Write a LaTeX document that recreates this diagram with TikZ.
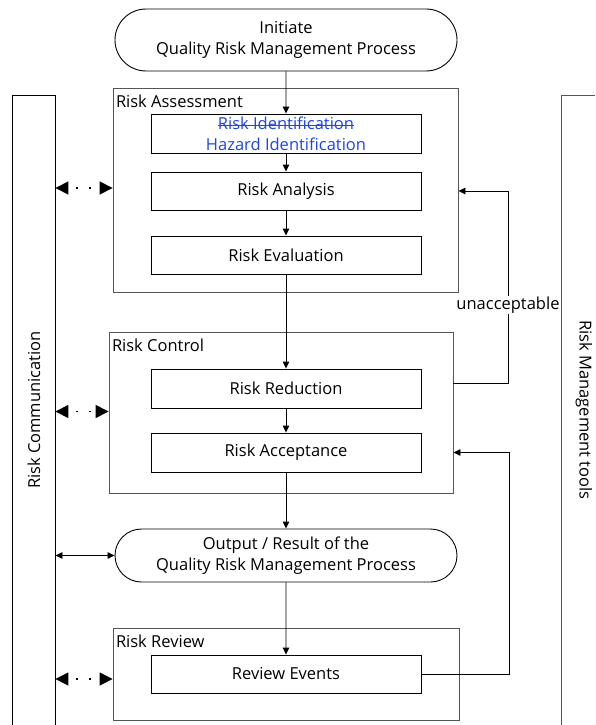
\documentclass[tikz,border=0pt]{standalone}
\usepackage{fontspec}
\setmainfont{Open Sans}
\usetikzlibrary{positioning, arrows.meta, shapes.misc, calc}

\definecolor{framegray}{RGB}{85,85,85}
\definecolor{hazblue}{RGB}{30,70,225}
\newlength\strikew
\newcommand{\struck}[1]{\settowidth{\strikew}{#1}\rlap{\rule[0.22em]{\strikew}{0.8pt}}#1}

\begin{document}
\begin{tikzpicture}[x=1pt,y=-1pt,line width=0.9pt,
   font=\fontsize{16.5}{21}\selectfont,
   box/.style={draw, minimum width=270pt, minimum height=38pt, inner sep=1pt, align=center},
   term/.style={draw, rounded rectangle, minimum width=344pt, inner sep=1pt, align=center},
   frame/.style={draw=framegray, inner sep=0pt},
   framelbl/.style={anchor=north west, inner xsep=3pt, inner ysep=6.5pt},
   flow/.style={-{Triangle[length=7pt,width=6.5pt]}},
   talk/.style={{Triangle[length=13pt,width=13pt]}-{Triangle[length=13pt,width=13pt]},
                line width=1.5pt, dash pattern=on 1.5pt off 11.5pt, dash phase=5pt},
   talkline/.style={{Triangle[length=7pt,width=6.5pt]}-{Triangle[length=7pt,width=6.5pt]}}]
   \useasboundingbox (0,0) rectangle (595,725);

   % side columns
   \node[inner sep=0pt, minimum width=42pt, minimum height=629pt] (comm) at (34,410.5) {};
   \node[inner sep=0pt, minimum width=33pt, minimum height=629pt] (tools) at (578.5,410.5) {};
   \draw (comm.south west) |- (comm.north east) -- (comm.south east);
   \draw[framegray] (tools.south west) |- (tools.north east);
   \node[rotate=90] (commlbl) at (34,410) {Risk Communication};
   \node[rotate=-90] (toolslbl) at (584,410) {Risk Management tools};

   % start
   \node[term, minimum height=62pt] (init) at (286,40) {Initiate\\Quality Risk Management Process};

   % risk assessment
   \node[frame, minimum width=345pt, minimum height=204pt] (ra) at (285.5,190) {};
   \node[framelbl] (ralbl) at (ra.north west) {Risk Assessment};
   \node[box, minimum height=39pt, text=hazblue] (ri) at (286,133.5)
      {\struck{Risk Identification}\\Hazard Identification};
   \node[box] (ran) at (286,191) {Risk Analysis};
   \node[box] (rev) at (286,255) {Risk Evaluation};

   % risk control
   \node[frame, minimum width=344pt, minimum height=161pt] (rc) at (281,412.5) {};
   \node[framelbl] (rclbl) at (rc.north west) {Risk Control};
   \node[box, minimum height=39pt] (rr) at (286,388.5) {Risk Reduction};
   \node[box, minimum height=39pt] (rac) at (286,452.5) {Risk Acceptance};

   % output
   \node[term, minimum height=53pt] (out) at (286,555.5) {Output / Result of the\\Quality Risk Management Process};

   % risk review
   \node[frame, minimum width=346pt, minimum height=92pt] (rrev) at (286,674) {};
   \node[framelbl] (rrevlbl) at (rrev.north west) {Risk Review};
   \node[box] (re) at (286,674) {Review Events};

   % main flow
   \draw[flow] (init) -- (ri);
   \draw[flow] (ri) -- (ran);
   \draw[flow] (ran) -- (rev);
   \draw[flow] (rev) -- (rr);
   \draw[flow] (rr) -- (rac);
   \draw[flow] (rac) -- (out);
   \draw[flow] (out) -- (re);

   % loops back
   \coordinate (bendU) at (508,191);
   \coordinate (bendR) at (509,452.5);
   \draw[flow] ($(rc.east |- rr)+(0,-5)$) -| (bendU) -- (ra.east |- bendU);
   \node[fill=white, inner sep=1pt] (unacc) at (508,305) {unacceptable};
   \draw[flow] (re.east) -| (bendR) -- (rc.east |- bendR);

   % communication
   \draw[talk] ($(comm.east |- ran)+(0,-3)$) -- ($(ra.west |- ran)+(0,-3)$);
   \draw[talk] ($(comm.east |- rc.west)+(0,-1)$) -- ($(rc.west)+(0,-1)$);
   \draw[talkline] (comm.east |- out) -- (out.west);
   \draw[talk] ($(comm.east |- rrev.west)+(0,5)$) -- ($(rrev.west)+(0,5)$);
\end{tikzpicture}
\end{document}
